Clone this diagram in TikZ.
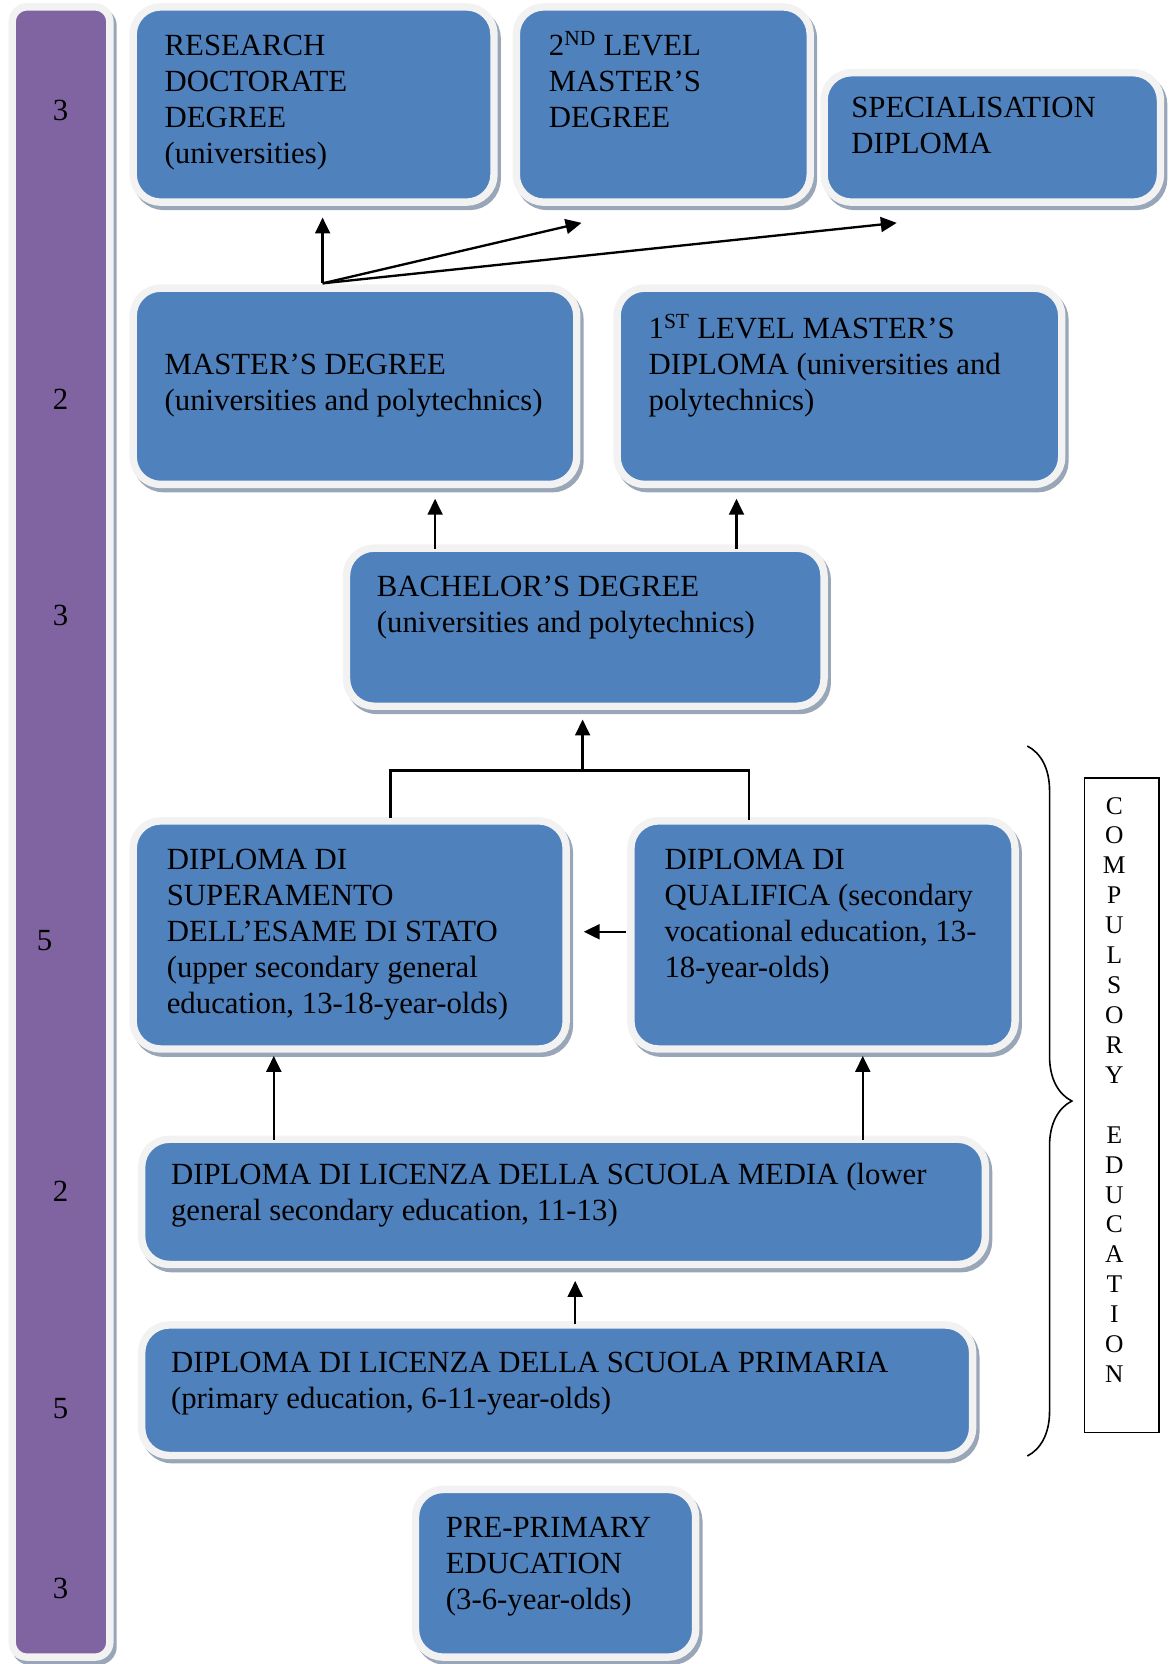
\documentclass[tikz,border=0pt]{standalone}
\usepackage{fontspec}
\setmainfont{Liberation Serif}
\usetikzlibrary{arrows.meta,shadows,decorations.pathreplacing,calc}
\definecolor{boxblue}{HTML}{4F81BD}
\definecolor{barpurple}{HTML}{8064A2}
\definecolor{rimgray}{HTML}{F2F2F2}
\definecolor{shadowcol}{HTML}{98A6B8}
\tikzset{
 panel/.style={shape=rectangle, draw=rimgray, line width=7pt, fill=boxblue, rounded corners=26pt, inner sep=0pt,
   drop shadow={shadow xshift=3pt, shadow yshift=-4pt, opacity=1, fill=shadowcol, draw=shadowcol, line width=7pt}},
 lab/.style={font=\fontsize{29}{34}\selectfont, align=left, inner sep=0pt, anchor=base west, text=black},
 num/.style={font=\fontsize{29}{34}\selectfont, inner sep=0pt, text=black},
 arr/.style={line width=2.2pt, -{Triangle[length=15pt,width=14pt]}},
 plainline/.style={line width=2pt},
}
\newcommand\panelbox[6][]{%
 \node[panel,#1, minimum width={#5-#3+7}, minimum height={#6-#4+7}] (#2) at ({(#3+#5)/2},{(#4+#6)/2}) {};}
\begin{document}
\begin{tikzpicture}[x=1pt,y=-1pt]
\useasboundingbox (0,0) rectangle (1103,1568);
% left bar
\panelbox[fill=barpurple, rounded corners=14pt]{bar}{15}{10}{100}{1558}
\node[num] (n1) at (57,104) {3};
\node[num] (n2) at (57,376) {2};
\node[num] (n3) at (57,580) {3};
\node[num] (n4) at (42,886) {5};
\node[num] (n5) at (57,1123) {2};
\node[num] (n6) at (57,1327) {5};
\node[num] (n7) at (57,1497) {3};
% boxes
\panelbox{research}{129}{10}{462}{187}
\panelbox{second}{490}{10}{760}{187}
\panelbox{spec}{780}{72}{1090}{187}
\panelbox{master}{129}{275}{540}{453}
\panelbox{first}{585}{275}{997}{453}
\panelbox{bach}{330}{520}{773}{662}
\panelbox{super}{129}{777}{530}{985}
\panelbox{qual}{598}{777}{953}{985}
\panelbox{media}{137}{1077}{925}{1188}
\panelbox{prim}{137}{1252}{913}{1368}
\panelbox{pre}{395}{1407}{652}{1558}
% texts (anchored at the baseline of the last line)
\node[lab] (tresearch) at (155,154) {RESEARCH\\DOCTORATE\\DEGREE\\(universities)};
\node[lab] (tsecond) at (517,120) {2\textsuperscript{ND} LEVEL\\MASTER’S\\DEGREE};
\node[lab] (tspec) at (802,145) {SPECIALISATION\\DIPLOMA};
\node[lab] (tmaster) at (155,387) {MASTER’S DEGREE\\(universities and polytechnics)};
\node[lab] (tfirst) at (611,387) {1\textsuperscript{ST} LEVEL MASTER’S\\DIPLOMA (universities and\\polytechnics)};
\node[lab] (tbach) at (355,596) {BACHELOR’S DEGREE\\(universities and polytechnics)};
\node[lab] (tsuper) at (157,955) {DIPLOMA DI\\SUPERAMENTO\\DELL’ESAME DI STATO\\(upper secondary general\\education, 13-18-year-olds)};
\node[lab] (tqual) at (626,921) {DIPLOMA DI\\QUALIFICA (secondary\\vocational education, 13-\\18-year-olds)};
\node[lab] (tmedia) at (161,1150) {DIPLOMA DI LICENZA DELLA SCUOLA MEDIA (lower\\general secondary education, 11-13)};
\node[lab] (tprim) at (161,1327) {DIPLOMA DI LICENZA DELLA SCUOLA PRIMARIA\\(primary education, 6-11-year-olds)};
\node[lab] (tpre) at (420,1517) {PRE-PRIMARY\\EDUCATION\\(3-6-year-olds)};
% compulsory education
\node[draw, line width=1.5pt, minimum width=70pt, minimum height=617pt, inner sep=0pt] (cbox) at (1057,1041.5) {};
\node[font=\fontsize{24}{28.2}\selectfont, align=center, inner sep=0pt] (cletters) at (1050,1027)
 {C\\O\\M\\P\\U\\L\\S\\O\\R\\Y\\\strut\\E\\D\\U\\C\\A\\T\\I\\O\\N};
\coordinate (bt) at (968,703);
\coordinate (bb) at (968,1372);
\draw[line width=1.5pt, decorate, decoration={brace, amplitude=42pt}] (bt) -- (bb);
% connectors
\coordinate (j1) at (304,267);
\coordinate (e1) at (304,205);
\coordinate (e2) at (548,210);
\coordinate (e3) at (845,210);
\draw[arr] (j1) -- (e1);
\draw[arr] (j1) -- (e2);
\draw[arr] (j1) -- (e3);
\coordinate (b1s) at (410,517);
\coordinate (b1e) at (410,470);
\coordinate (b2s) at (694,517);
\coordinate (b2e) at (694,470);
\draw[arr] (b1s) -- (b1e);
\draw[arr] (b2s) -- (b2e);
\coordinate (ta) at (368,771);
\coordinate (tb) at (706,773);
\coordinate (tm) at (549,726);
\coordinate (te) at (549,678);
\draw[plainline] (ta) |- (tm) -| (tb);
\draw[arr] (tm) -- (te);
\coordinate (qs) at (590,878);
\coordinate (qe) at (550,878);
\draw[arr] (qs) -- (qe);
\coordinate (m1s) at (258,1074);
\coordinate (m1e) at (258,995);
\coordinate (m2s) at (813,1074);
\coordinate (m2e) at (813,995);
\draw[arr] (m1s) -- (m1e);
\draw[arr] (m2s) -- (m2e);
\coordinate (ps) at (542,1248);
\coordinate (pe) at (542,1207);
\draw[arr] (ps) -- (pe);
\end{tikzpicture}
\end{document}
